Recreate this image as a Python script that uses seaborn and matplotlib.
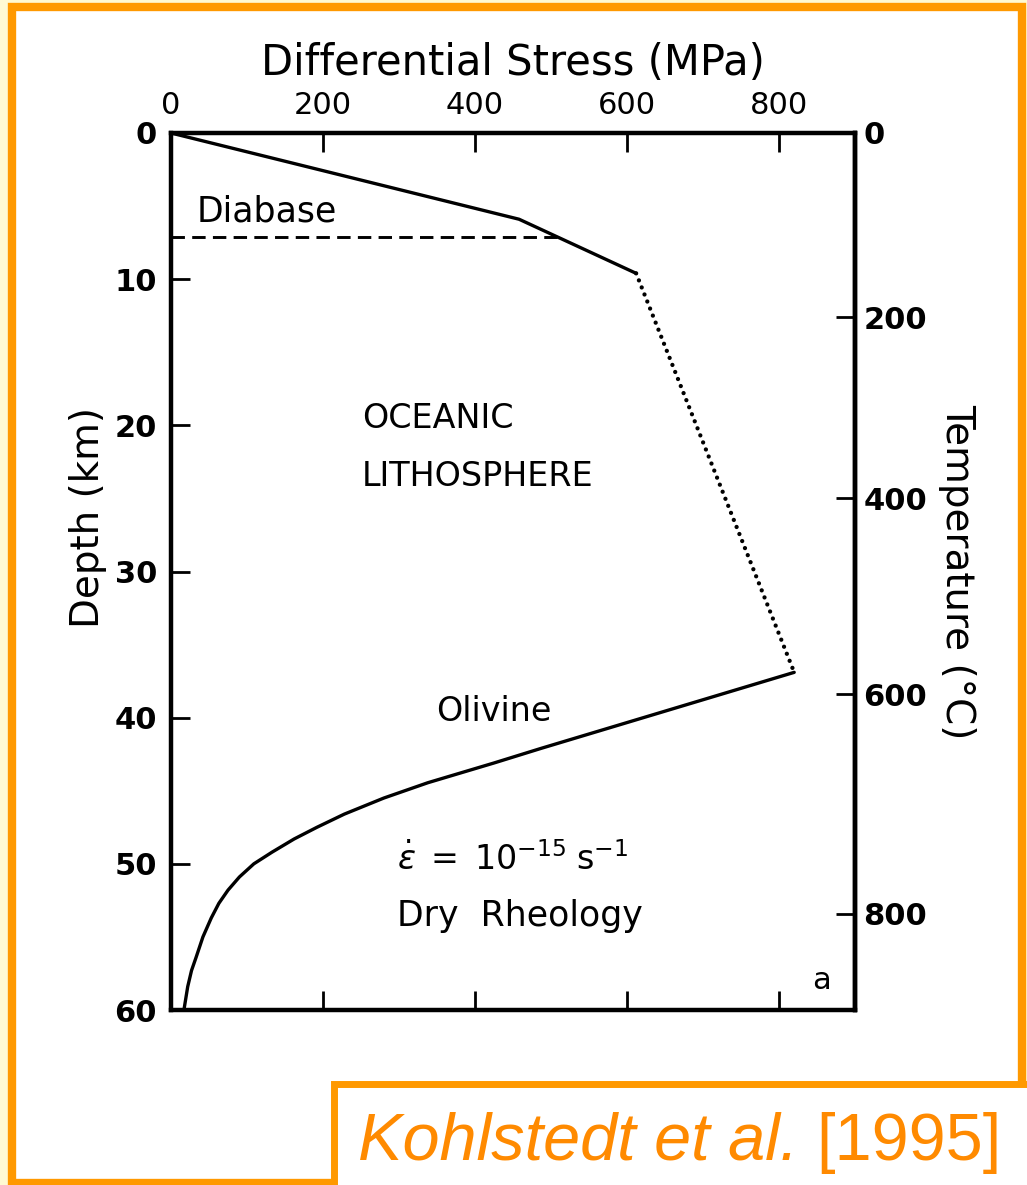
import numpy as np
import pandas as pd
import matplotlib
matplotlib.use('Agg')
import matplotlib.pyplot as plt
import seaborn as sns
from matplotlib.patches import Rectangle

# strength envelope (stress in MPa, depth in km)
diabase_stress = [0, 458, 612]
diabase_depth = [0, 5.9, 9.6]

transition_stress = [612, 820]
transition_depth = [9.6, 36.9]

olivine_stress = [820, 487, 425, 338, 280, 228, 192, 162, 133, 109, 90, 75, 63,
                  53, 42, 33, 27, 22, 17]
olivine_depth = [36.9, 42.1, 43.1, 44.45, 45.5, 46.6, 47.5, 48.3, 49.2, 50.0, 50.9,
                 51.8, 52.7, 53.7, 55.0, 56.4, 57.3, 58.4, 60.0]

# base of the diabase layer
moho_stress = [0, 508]
moho_depth = [7.1, 7.1]

stress_ticks = [0, 200, 400, 600, 800]
depth_ticks = [0, 10, 20, 30, 40, 50, 60]

# temperature scale on the right (depth of each isotherm)
temp_labels = [0, 200, 400, 600, 800]
temp_depth = [0, 12.6, 25.0, 38.4, 53.4]

W, H = 1027, 1185
orange = '#ff9900'
text_orange = '#ff8a00'
cream = '#fff9d2'


def fx(px):
    return px / W


def fy(py):
    return 1 - py / H


sns.set_style('ticks')
plt.rcParams['font.family'] = ['DejaVu Sans']
plt.rcParams.update({'text.color': 'black', 'axes.labelcolor': 'black',
                     'xtick.color': 'black', 'ytick.color': 'black',
                     'axes.edgecolor': 'black'})

fig = plt.figure(figsize=(W / 100, H / 100), dpi=100, facecolor=cream)

# slide frame
fig.add_artist(Rectangle((fx(12), fy(1183)), fx(1022) - fx(12), fy(7) - fy(1183),
                         transform=fig.transFigure, facecolor='white',
                         edgecolor=orange, lw=6, zorder=0))

ax = fig.add_axes([fx(171), fy(1010), fx(855) - fx(171), fy(133) - fy(1010)])
ax.set_facecolor('white')

sns.lineplot(x=diabase_stress, y=diabase_depth, sort=False, estimator=None,
             color='black', lw=2.4, ax=ax)
sns.lineplot(x=transition_stress, y=transition_depth, sort=False, estimator=None,
             color='black', lw=3.1, linestyle=(0, (0.01, 1.75)),
             dash_capstyle='round', ax=ax)
sns.lineplot(x=olivine_stress, y=olivine_depth, sort=False, estimator=None,
             color='black', lw=2.4, ax=ax)
sns.lineplot(x=moho_stress, y=moho_depth, sort=False, estimator=None,
             color='black', lw=2.1, linestyle=(0, (4.6, 2.5)), ax=ax)

ax.set_xlim(0, 900)
ax.set_ylim(60, 0)

for s in ax.spines.values():
    s.set_linewidth(3.2)
    s.set_color('black')

ax.set_xticks(stress_ticks)
ax.set_yticks(depth_ticks)
ax.xaxis.tick_top()
ax.xaxis.set_label_position('top')
ax.tick_params(axis='x', top=True, bottom=True, labeltop=True, labelbottom=False,
               direction='in', length=14, width=2, pad=9, labelsize=22)
ax.tick_params(axis='y', left=True, right=False, direction='in', length=14,
               width=2, pad=10, labelsize=22)
for lab in ax.get_yticklabels():
    lab.set_fontweight('bold')
ax.set_xlabel('Differential Stress (MPa)', fontsize=30, labelpad=12)
ax.set_ylabel('Depth (km)', fontsize=28)
ax.yaxis.set_label_coords(-0.094, 0.562)

ax2 = ax.twinx()
ax2.set_ylim(60, 0)
ax2.set_yticks(temp_depth)
ax2.set_yticklabels([str(t) for t in temp_labels], fontweight='bold')
ax2.tick_params(axis='y', direction='in', length=14, width=2, pad=6, labelsize=22)
for name, s in ax2.spines.items():
    s.set_visible(name == 'right')
    s.set_linewidth(3.2)
    s.set_color('black')
ax2.set_ylabel('Temperature (°C)', fontsize=28, rotation=270, labelpad=35)

ax.text(34, 5.4, 'Diabase', fontsize=25, ha='left', va='center')
ax.text(251, 19.5, 'OCEANIC', fontsize=24, ha='left', va='center')
ax.text(251, 23.5, 'LITHOSPHERE', fontsize=24, ha='left', va='center')
ax.text(349, 39.6, 'Olivine', fontsize=24, ha='left', va='center')
ax.text(297, 49.7, r'$\dot{\varepsilon}\;=\;10^{-15}\;\mathrm{s}^{-1}$',
        fontsize=24, ha='left', va='center')
ax.text(297, 53.6, 'Dry  Rheology', fontsize=25, ha='left', va='center')
ax.text(856, 58.0, 'a', fontsize=22, ha='center', va='center')

# citation box
fig.add_artist(Rectangle((fx(334), fy(1195)), fx(1040) - fx(334), fy(1084) - fy(1195),
                         transform=fig.transFigure, facecolor='white',
                         edgecolor=orange, lw=5, zorder=1))
t1 = fig.text(fx(358), fy(1160), 'Kohlstedt et al.', fontsize=48, style='italic',
              family='Liberation Sans', color=text_orange, zorder=2)
fig.canvas.draw()
bb = t1.get_window_extent()
fig.text((bb.x1 + 18) / W, fy(1160), '[1995]', fontsize=48,
         family='Liberation Sans', color=text_orange, zorder=2)

fig.savefig('out.png', dpi=100, facecolor=cream)
